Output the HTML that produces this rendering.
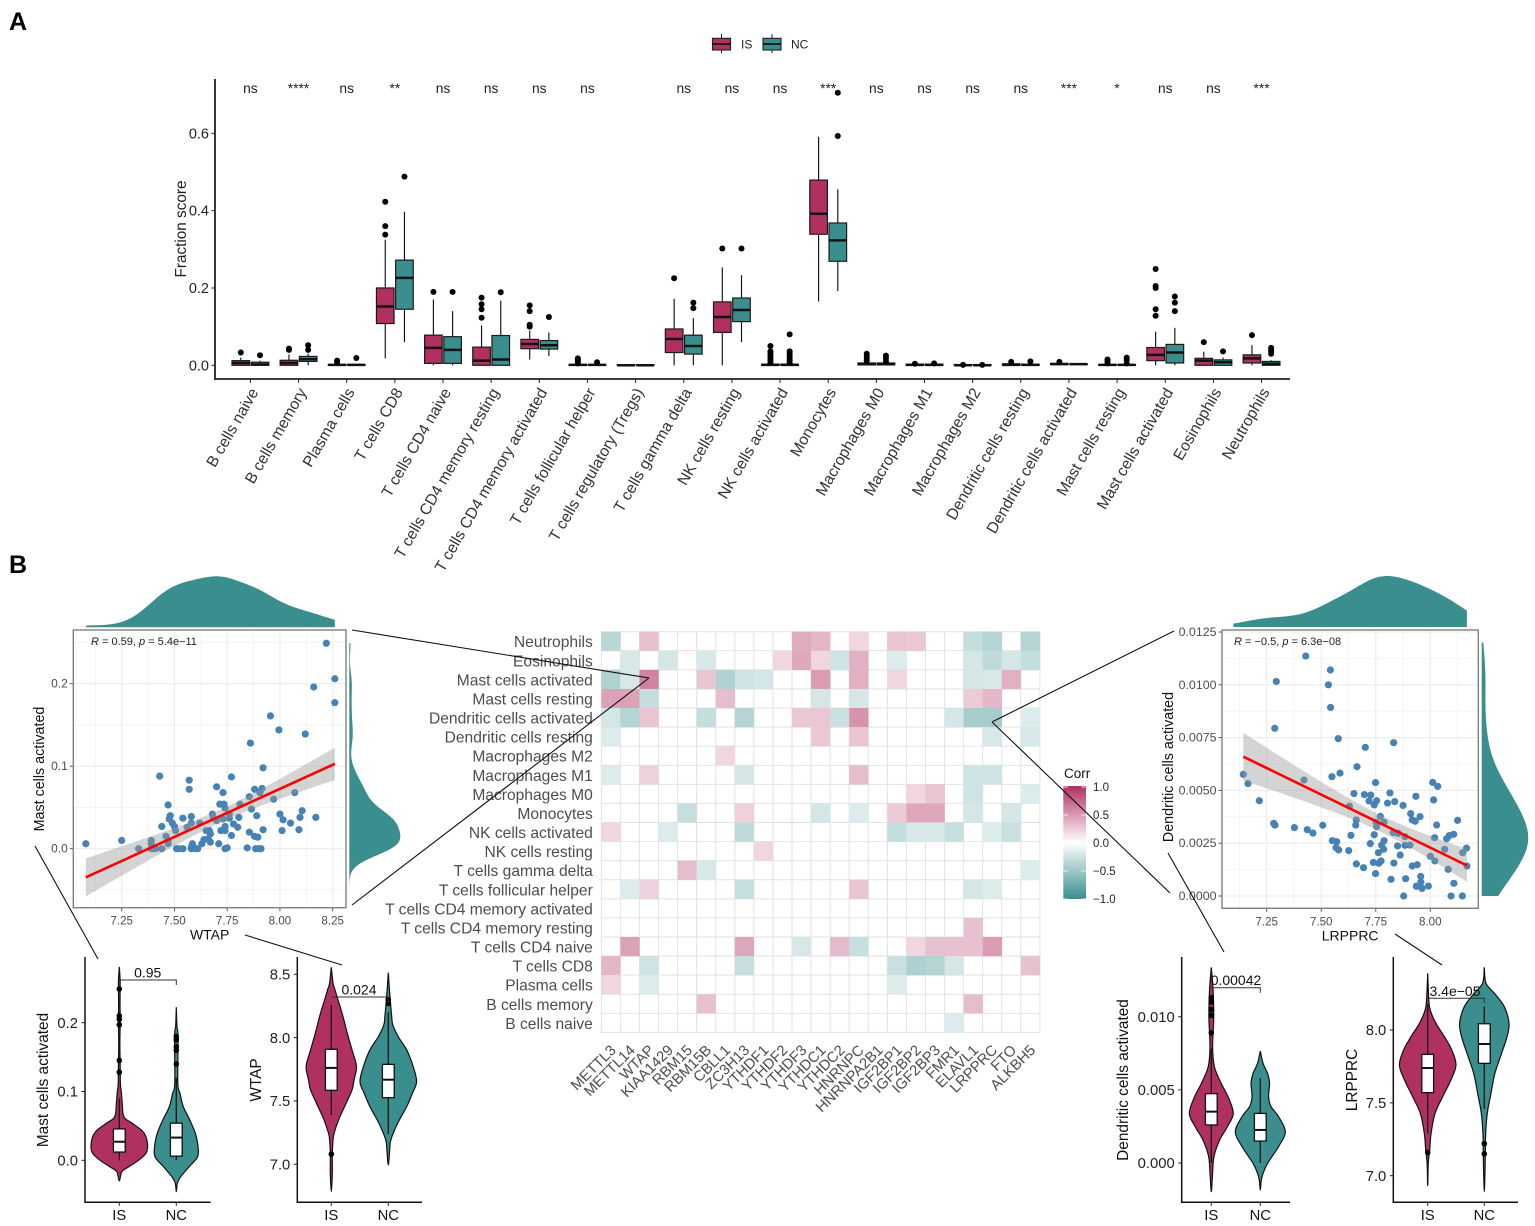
<!DOCTYPE html>
<html lang="en">
<head>
<meta charset="utf-8">
<title>Immune infiltration figure</title>
<style>
html,body{margin:0;padding:0;background:#fff;width:1535px;height:1226px;overflow:hidden}
svg{display:block;font-family:"Liberation Sans",sans-serif}
</style>
</head>
<body>
<svg id="chart" xmlns="http://www.w3.org/2000/svg" width="1535" height="1226" viewBox="0 0 1535 1226">
<defs>
<linearGradient id="corrGrad" x1="0" y1="0" x2="0" y2="1">
<stop offset="0" stop-color="#b03060"/><stop offset="0.5" stop-color="#ffffff"/><stop offset="1" stop-color="#3b8e8e"/>
</linearGradient>
</defs>
<text x="9" y="30" font-size="25" font-weight="bold" fill="#000">A</text>
<text x="9" y="573" font-size="25" font-weight="bold" fill="#000">B</text>
<g id="panelA"></g>
<g id="heat"></g>
<g id="scatters"></g>
<g id="violins"></g>
<g id="connectors" stroke="#111" stroke-width="1.1" fill="none">
<line x1="352" y1="630" x2="649" y2="678"/>
<line x1="352" y1="905" x2="649" y2="678"/>
<line x1="1174" y1="631" x2="992" y2="722"/>
<line x1="1170" y1="893" x2="992" y2="722"/>
<line x1="35" y1="846" x2="98" y2="959"/>
<line x1="245" y1="935" x2="342" y2="965"/>
<line x1="1168" y1="853" x2="1224" y2="952"/>
<line x1="1395" y1="934" x2="1442" y2="965"/>
</g>
</svg>
<script>
/* ---------- Panel A data ---------- */
const cellTypes = ["B cells naive","B cells memory","Plasma cells","T cells CD8","T cells CD4 naive","T cells CD4 memory resting","T cells CD4 memory activated","T cells follicular helper","T cells regulatory (Tregs)","T cells gamma delta","NK cells resting","NK cells activated","Monocytes","Macrophages M0","Macrophages M1","Macrophages M2","Dendritic cells resting","Dendritic cells activated","Mast cells resting","Mast cells activated","Eosinophils","Neutrophils"];
const sigLabels = ["ns","****","ns","**","ns","ns","ns","ns","","ns","ns","ns","***","ns","ns","ns","ns","***","*","ns","ns","***"];
const fractionTicks = [0,0.2,0.4,0.6];
const isLow  = [0,0,0,.018,0,0,.015,0,0,0,0,0,.165,0,0,0,0,.001,0,0,0,0];
const isQ1   = [0,0,0,.108,.005,0,.043,0,0,.033,.085,0,.339,.001,0,0,0,.002,0,.012,0,.006];
const isMed  = [.006,.006,.001,.152,.045,.012,.055,.001,0,.068,.125,.001,.392,.003,.001,0,.001,.003,.001,.027,.012,.018];
const isQ3   = [.012,.013,.002,.2,.078,.047,.067,.002,.001,.094,.164,.003,.479,.006,.003,.002,.004,.005,.002,.046,.018,.027];
const isHigh = [.02,.028,.004,.325,.17,.103,.09,.004,.001,.172,.253,.006,.591,.012,.005,.003,.006,.006,.003,.087,.035,.052];
const ncLow  = [0,0,0,.06,0,0,.024,0,0,0,.06,0,.192,0,0,0,0,.002,0,0,0,0];
const ncQ1   = [0,.01,0,.145,.005,0,.042,0,0,.029,.113,0,.269,.001,0,0,0,.002,0,.006,0,0];
const ncMed  = [.002,.016,.001,.226,.04,.015,.052,.001,0,.05,.143,.001,.323,.003,.001,0,.001,.003,.001,.033,.008,.004];
const ncQ3   = [.008,.023,.002,.272,.074,.077,.064,.002,.001,.078,.174,.003,.368,.006,.003,.002,.003,.003,.002,.054,.014,.01];
const ncHigh = [.012,.03,.003,.397,.14,.167,.085,.003,.001,.122,.233,.005,.455,.011,.004,.002,.005,.003,.003,.097,.02,.013];
const isOutliers = [[.033],[.04,.043],[.008,.012],[.338,.36,.423],[.19],[.123,.145,.158,.175],[.1,.105,.14,.155],[.005,.01,.014,.018],[],[.225],[.302],[.006,.012,.018,.024,.03,.036,.05],[],[.012,.018,.024,.03],[.004],[.001],[.009],[.009],[.005,.01,.015],[.128,.145,.2,.205,.249],[.06],[.078]];
const ncOutliers = [[.026],[.04,.052],[.019],[.488],[.19],[.189],[.125],[.008],[],[.148,.162],[.302],[.006,.012,.018,.024,.03,.036,.08],[.593,.705],[.01,.018,.025],[.005],[.001],[.01],[],[.005,.014,.02],[.14,.162,.178],[.036],[.03,.036,.04,.045]];

/* ---------- Heatmap data ---------- */
const geneNames = ["METTL3","METTL14","WTAP","KIAA1429","RBM15","RBM15B","CBLL1","ZC3H13","YTHDF1","YTHDF2","YTHDF3","YTHDC1","YTHDC2","HNRNPC","HNRNPA2B1","IGF2BP1","IGF2BP2","IGF2BP3","FMR1","ELAVL1","LRPPRC","FTO","ALKBH5"];
const heatRows = ["Neutrophils","Eosinophils","Mast cells activated","Mast cells resting","Dendritic cells activated","Dendritic cells resting","Macrophages M2","Macrophages M1","Macrophages M0","Monocytes","NK cells activated","NK cells resting","T cells gamma delta","T cells follicular helper","T cells CD4 memory activated","T cells CD4 memory resting","T cells CD4 naive","T cells CD8","Plasma cells","B cells memory","B cells naive"];
const corrValues = [
[-.35,0,.3,0,0,0,0,0,0,0,.4,.35,0,.2,0,.28,.27,0,0,-.3,-.38,0,-.38],
[0,-.2,0,-.22,0,-.2,0,0,0,.2,.42,.2,-.25,.38,0,-.18,0,0,0,-.22,-.33,-.22,-.3],
[-.4,-.2,.6,0,0,.28,-.4,-.25,-.22,0,0,.48,0,.38,0,.2,0,0,0,-.22,-.2,.38,0],
[.45,.45,-.3,0,0,0,.32,0,0,0,0,-.22,0,-.22,0,0,0,0,0,.25,.35,0,0],
[-.22,-.38,.28,0,0,-.3,0,-.38,0,0,.27,.27,-.27,.52,0,0,0,0,-.22,-.45,-.45,0,-.18],
[-.18,0,0,0,0,0,0,0,0,0,0,.27,0,.28,0,0,0,0,0,0,-.2,0,-.2],
[0,0,0,0,0,0,.2,0,0,0,0,0,0,0,0,0,0,0,0,0,0,0,0],
[-.18,0,.22,0,0,0,0,-.22,0,0,0,0,0,.32,0,0,0,0,0,-.25,-.25,0,0],
[0,0,0,0,0,0,0,0,0,0,0,0,0,0,0,0,.2,.28,0,-.25,0,0,-.18],
[0,0,0,0,-.28,0,0,.22,0,0,0,-.22,0,-.18,0,.25,.42,.42,0,-.22,0,-.22,0],
[.2,0,0,-.18,0,0,0,-.33,0,0,0,0,0,0,0,-.3,-.2,-.2,-.28,0,-.17,-.27,0],
[0,0,0,0,0,0,0,0,.2,0,0,0,0,0,0,0,0,0,0,0,0,0,0],
[0,0,0,0,.32,-.2,0,0,0,0,0,0,0,0,0,0,0,0,0,0,0,0,-.18],
[0,-.18,.22,0,0,0,0,-.28,0,0,0,0,0,.28,0,0,0,0,0,-.22,-.17,0,0],
[0,0,0,0,0,0,0,0,0,0,0,0,0,0,0,0,0,0,0,0,0,0,0],
[0,0,0,0,0,0,0,0,0,0,0,0,0,0,0,0,0,0,0,.3,0,0,0],
[0,.45,0,0,0,0,0,.42,0,0,-.2,0,.33,-.28,0,0,.2,.3,.3,.3,.48,0,0],
[.35,0,-.25,0,0,0,0,-.28,0,0,0,0,0,0,0,-.27,-.42,-.38,-.22,0,0,0,.3],
[.2,0,-.18,0,0,0,0,0,0,0,0,0,0,0,0,-.17,0,0,0,0,0,0,0],
[0,0,0,0,0,.3,0,0,0,0,0,0,0,0,0,0,0,0,0,.32,0,0,0],
[0,0,0,0,0,0,0,0,0,0,0,0,0,0,0,0,0,0,-.18,0,0,0,0]
];
const corrTicks = [1,0.5,0,-0.5,-1];
const corrTickLabels = ["1.0","0.5","0.0","\u22120.5","\u22121.0"];

/* ---------- Scatter data ---------- */
const wtapValues = [7.08,7.25,7.33,7.39,7.39,7.39,7.40,7.41,7.43,7.44,7.44,7.46,7.47,7.47,7.47,7.48,7.475,7.49,7.50,7.505,7.51,7.52,7.54,7.54,7.56,7.57,7.57,7.58,7.58,7.58,7.585,7.58,7.59,7.60,7.61,7.62,7.63,7.64,7.65,7.66,7.665,7.67,7.67,7.68,7.685,7.70,7.70,7.715,7.71,7.72,7.73,7.73,7.735,7.74,7.74,7.74,7.74,7.75,7.76,7.76,7.77,7.77,7.78,7.80,7.805,7.81,7.845,7.855,7.855,7.86,7.865,7.88,7.88,7.885,7.89,7.895,7.90,7.905,7.91,7.915,7.92,7.92,7.955,7.97,7.995,8.0,8.01,8.015,8.05,8.07,8.09,8.095,8.105,8.12,8.16,8.17,8.22,8.26,8.26];
const mastValues = [.006,.010,0,.010,.006,0,0,0,.088,.027,0,.015,.053,.01,.006,.04,.036,.031,.027,.022,0,0,0,.037,.026,.083,.072,.031,.039,.002,.006,0,.002,0,0,.031,.006,.011,.022,.012,.022,.018,.008,.042,.037,.075,.034,.054,.006,.022,.068,.036,.054,.049,.027,.022,0,.001,.042,.037,.087,.016,.03,.026,.038,.054,.001,.063,.02,.128,.048,.072,.015,0,.04,.014,0,.068,0,.073,.098,.023,.161,.06,.144,.042,.022,.035,.031,.068,.023,.038,.046,.139,.196,.038,.249,.206,.177];
const wtapXTicks = [7.25,7.5,7.75,8,8.25];
const wtapXTickLabels = ["7.25","7.50","7.75","8.00","8.25"];
const mastYTicks = [0,0.1,0.2];
const mastYTickLabels = ["0.0","0.1","0.2"];
const lrpprcValues = [7.429,7.542,7.294,7.533,7.543,7.287,7.578,7.832,7.702,7.664,7.586,7.549,7.143,7.164,7.421,7.216,7.749,8.011,8.034,7.650,7.698,7.727,7.815,7.934,7.719,7.754,7.743,7.804,7.837,7.875,8.015,7.629,7.91,7.953,7.917,7.931,8.125,7.661,7.771,7.788,7.752,7.754,7.658,7.282,7.288,7.377,7.436,7.462,7.507,8.029,7.636,7.743,7.83,7.853,7.884,8.02,8.075,8.087,8.107,7.551,7.571,7.788,7.725,7.777,7.85,7.884,7.907,7.568,7.58,7.626,7.786,7.762,8.166,8.066,8.148,7.862,8.0,7.661,7.694,7.739,7.764,7.774,7.833,7.917,7.94,8.021,8.082,8.168,7.749,7.82,7.887,7.956,7.957,7.936,7.953,7.962,7.991,8.108,7.878,8.095,8.147];
const dendriticValues = [.01136,.0107,.01016,.0100,.00893,.00794,.00745,.00726,.00704,.00612,.00582,.00565,.00576,.00532,.00549,.00451,.00537,.00538,.00519,.00485,.0048,.00478,.00488,.00472,.0045,.00451,.00431,.0044,.00447,.00429,.00455,.00425,.0039,.00376,.0036,.00354,.00358,.0036,.00377,.00349,.00349,.00328,.00336,.00344,.00336,.00324,.00314,.00298,.00335,.00336,.00287,.0029,.003,.00297,.00281,.00276,.00271,.00286,.00292,.00262,.00257,.00262,.00248,.00241,.00237,.0024,.00241,.00229,.00218,.00215,.00221,.00205,.00227,.00221,.00205,.00194,.00188,.00152,.00134,.00159,.00155,.00166,.00156,.00142,.00148,.00166,.00126,.00142,.00106,.00079,.00082,.00093,.00066,.00046,.00047,.00036,.00047,.0006,0,0,0];
const lrpprcXTicks = [7.25,7.5,7.75,8];
const lrpprcXTickLabels = ["7.25","7.50","7.75","8.00"];
const dendriticYTicks = [0,0.0025,0.005,0.0075,0.01,0.0125];
const dendriticYTickLabels = ["0.0000","0.0025","0.0050","0.0075","0.0100","0.0125"];

/* ---------- Violin data (value / relative density profiles) ---------- */
const groupLabels = ["IS","NC"];
const mastIsLevels = [.281,.26,.23,.2,.17,.14,.11,.1,.085,.0635,.054,.044,.0345,.02,.01,0,-.0095,-.0165,-.03];
const mastIsDensity = [0,.03,.025,.03,.02,.03,.04,.07,.1,.16,.45,.78,.94,1,.94,.68,.33,.09,0];
const mastNcLevels = [.2226,.195,.18,.112,.0975,.078,.0587,.039,.02,.005,-.009,-.024,-.033,-.0456];
const mastNcDensity = [0,.03,.08,.07,.17,.32,.62,.88,1,.98,.6,.2,.05,0];
const wtapIsLevels = [8.555,8.429,8.389,8.297,8.166,8.034,7.903,7.797,7.745,7.666,7.587,7.455,7.35,7.245,7.192,7.087,6.929,6.784];
const wtapIsDensity = [0,.07,.13,.27,.47,.64,.83,.99,1,.91,.83,.53,.29,.11,.07,.04,.04,0];
const wtapNcLevels = [8.513,8.35,8.166,8.1,8.008,7.903,7.771,7.653,7.56,7.455,7.324,7.192,7.113,6.995];
const wtapNcDensity = [0,.05,.12,.16,.35,.65,.88,1,.85,.65,.33,.09,.05,0];
const dendIsLevels = [.01337,.01182,.01,.00795,.00658,.00544,.00453,.00339,.00248,.00157,.00043,-.00093,-.00196];
const dendIsDensity = [0,.08,.11,.06,.14,.45,.76,1,.73,.38,.12,.05,0];
const dendNcLevels = [.00765,.00681,.00613,.00544,.00453,.00385,.00317,.00214,.00112,-.00002,-.00071,-.00116,-.00185];
const dendNcDensity = [0,.11,.29,.37,.33,.43,.73,1,.73,.29,.11,.04,0];
const lrpIsLevels = [8.389,8.206,8.137,8.046,7.954,7.863,7.76,7.657,7.542,7.428,7.291,7.176,7.085,6.931];
const lrpIsDensity = [0,.04,.09,.29,.59,.85,1,.82,.53,.26,.12,.07,.02,0];
const lrpNcLevels = [8.43,8.32,8.252,8.16,8.046,7.954,7.84,7.703,7.565,7.451,7.359,7.268,7.13,6.89];
const lrpNcDensity = [0,.07,.41,.81,1,.92,.7,.43,.27,.14,.08,.05,.04,0];
/* five-number summaries: low, q1, median, q3, high */
const mastIsBox = [0,.012,.027,.0456,.09];
const mastNcBox = [0,.006,.033,.054,.12];
const wtapIsBox = [7.39,7.584,7.761,7.908,8.258];
const wtapNcBox = [7.24,7.526,7.668,7.789,8.2];
const dendIsBox = [0,.0026,.00351,.00474,.0078];
const dendNcBox = [0,.0015,.00226,.00339,.0058];
const lrpIsBox = [7.29,7.57,7.739,7.833,8.18];
const lrpNcBox = [7.46,7.771,7.904,8.043,8.16];
const mastIsOut = [.128,.145,.197,.205,.21,.249];
const mastNcOut = [.14,.16,.165,.175,.18];
const wtapIsOut = [7.08];
const wtapNcOut = [8.27,8.3];
const dendIsOut = [.0089,.0101,.0105,.011,.0113];
const dendNcOut = [];
const lrpIsOut = [7.16];
const lrpNcOut = [7.15,7.22];
const mastViolinTicks = [0,0.1,0.2];
const mastViolinLabels = ["0.0","0.1","0.2"];
const wtapViolinTicks = [7,7.5,8,8.5];
const wtapViolinLabels = ["7.0","7.5","8.0","8.5"];
const dendViolinTicks = [0,0.005,0.01];
const dendViolinLabels = ["0.000","0.005","0.010"];
const lrpViolinTicks = [7,7.5,8];
const lrpViolinLabels = ["7.0","7.5","8.0"];

/* ---------- Helpers ---------- */
const NS = "http://www.w3.org/2000/svg";
const IS_COLOR = "#b03060", NC_COLOR = "#3b8e8e";
function add(parent, tag, attrs, text){
  const el = document.createElementNS(NS, tag);
  for (const k in attrs) el.setAttribute(k, attrs[k]);
  if (text !== undefined) el.textContent = text;
  parent.appendChild(el);
  return el;
}
function linear(d0, d1, r0, r1){ return v => r0 + (v - d0) * (r1 - r0) / (d1 - d0); }
function mean(a){ return a.reduce((s,v)=>s+v,0)/a.length; }
function sd(a){ const m = mean(a); return Math.sqrt(a.reduce((s,v)=>s+(v-m)*(v-m),0)/(a.length-1)); }
function quantile(a,q){ const s=[...a].sort((x,y)=>x-y); const i=(s.length-1)*q, lo=Math.floor(i); return s[lo]+(s[Math.min(lo+1,s.length-1)]-s[lo])*(i-lo); }
function kde(vals, from, to, steps, adjust){
  const iqr = quantile(vals,.75)-quantile(vals,.25);
  const bw = adjust*0.9*Math.min(sd(vals), iqr/1.34)*Math.pow(vals.length,-0.2);
  const out = [];
  for (let i=0;i<=steps;i++){
    const x = from+(to-from)*i/steps;
    let d = 0;
    for (const v of vals){ const z=(x-v)/bw; d += Math.exp(-.5*z*z); }
    out.push([x,d]);
  }
  return out;
}
function smoothPath(pts){
  let d = "M"+pts[0][0].toFixed(2)+" "+pts[0][1].toFixed(2);
  for (let i=0;i<pts.length-1;i++){
    const p0=pts[Math.max(i-1,0)],p1=pts[i],p2=pts[i+1],p3=pts[Math.min(i+2,pts.length-1)];
    const c1x=p1[0]+(p2[0]-p0[0])/6,c1y=p1[1]+(p2[1]-p0[1])/6,c2x=p2[0]-(p3[0]-p1[0])/6,c2y=p2[1]-(p3[1]-p1[1])/6;
    d += "C"+c1x.toFixed(2)+" "+c1y.toFixed(2)+" "+c2x.toFixed(2)+" "+c2y.toFixed(2)+" "+p2[0].toFixed(2)+" "+p2[1].toFixed(2);
  }
  return d;
}

/* ---------- Panel A ---------- */
(function(){
  const root = document.getElementById("panelA");
  const y = linear(0,.6,365.3,133.3);
  const x = i => 250.4 + i*48.15;
  const axisY = add(root,"line",{x1:215,y1:79,x2:215,y2:379.9,stroke:"#222","stroke-width":1.8});
  
  
  const axisX = add(root,"line",{x1:214.1,y1:379,x2:1290,y2:379,stroke:"#222","stroke-width":1.8});
  
  
  const title = add(root,"text",{x:0,y:0,transform:"translate(186,229) rotate(-90)","text-anchor":"middle","font-size":15.3,fill:"#222"},"Fraction score");
  
  
  fractionTicks.forEach(t=>{
    const mark = add(root,"line",{x1:211.5,x2:215,y1:y(t),y2:y(t),stroke:"#222","stroke-width":1});
    
    
    const lab = add(root,"text",{x:209,y:y(t)+5,"text-anchor":"end","font-size":14.5,fill:"#222"},t.toFixed(1));
    
    
  });
  function box(cx, lo, q1, med, q3, hi, outs, fill){
    const g = add(root,"g",{});
    
    
    const whisker = add(g,"line",{x1:cx,x2:cx,y1:y(hi),y2:y(lo),stroke:"#111","stroke-width":1.15});
    
    
    const rect = add(g,"rect",{x:cx-8.8,y:y(q3),width:17.6,height:Math.max(y(q1)-y(q3),.3),fill:fill,stroke:"#1a1a1a","stroke-width":1.2});
    
    
    const median = add(g,"line",{x1:cx-8.8,x2:cx+8.8,y1:y(med),y2:y(med),stroke:"#111","stroke-width":2.5});
    
    
    outs.forEach(o=>{
      const pt = add(g,"circle",{cx:cx,cy:y(o),r:3,fill:"#000"});
      
      
    });
  }
  cellTypes.forEach((c,i)=>{
    const cx = x(i);
    const tick = add(root,"line",{x1:cx,x2:cx,y1:379,y2:383,stroke:"#222","stroke-width":1});
    
    
    const lab = add(root,"text",{x:0,y:0,transform:"translate("+(cx+8.5)+",392) rotate(-60)","text-anchor":"end","font-size":15.7,fill:"#333"},c);
    
    
    const sig = add(root,"text",{x:cx,y:93,"text-anchor":"middle","font-size":13.8,fill:"#222"},sigLabels[i]);
    
    
    box(cx-9.6,isLow[i],isQ1[i],isMed[i],isQ3[i],isHigh[i],isOutliers[i],IS_COLOR);
    box(cx+9.6,ncLow[i],ncQ1[i],ncMed[i],ncQ3[i],ncHigh[i],ncOutliers[i],NC_COLOR);
  });
  /* legend */
  const legendKeys = [[721.5,IS_COLOR,"IS",741],[772,NC_COLOR,"NC",791]];
  legendKeys.forEach(k=>{
    const g = add(root,"g",{});
    
    
    const w = add(g,"line",{x1:k[0],x2:k[0],y1:34,y2:53,stroke:"#222","stroke-width":1});
    
    
    const r = add(g,"rect",{x:k[0]-9,y:38.3,width:18,height:11.7,fill:k[1],stroke:"#222","stroke-width":1.1});
    
    
    const m = add(g,"line",{x1:k[0]-9,x2:k[0]+9,y1:44,y2:44,stroke:"#111","stroke-width":1.8});
    
    
    const t = add(g,"text",{x:k[3],y:48.5,"font-size":12,fill:"#222"},k[2]);
    
    
  });
})();

/* ---------- Heatmap ---------- */
(function(){
  const root = document.getElementById("heat");
  const x0=601.3, cw=19.07, y0=631.7, ch=19.08;
  const nc=geneNames.length, nr=heatRows.length;
  function colour(v){
    const t = Math.min(1,Math.abs(v));
    const c = v>0 ? [176,48,96] : [59,142,142];
    return "rgb("+c.map(k=>Math.round(255+(k-255)*t)).join(",")+")";
  }
  for (let i=0;i<=nc;i++){
    const gl = add(root,"line",{x1:x0+i*cw,x2:x0+i*cw,y1:y0,y2:y0+nr*ch,stroke:"#e2e2e2","stroke-width":1});
    
    
  }
  for (let j=0;j<=nr;j++){
    const gl = add(root,"line",{x1:x0,x2:x0+nc*cw,y1:y0+j*ch,y2:y0+j*ch,stroke:"#e2e2e2","stroke-width":1});
    
    
  }
  corrValues.forEach((row,j)=>row.forEach((v,i)=>{
    const cell = add(root,"rect",{x:x0+i*cw,y:y0+j*ch,width:cw+.2,height:ch+.2,fill:v===0?"none":colour(v)});
    
    
  }));
  heatRows.forEach((r,j)=>{
    const lab = add(root,"text",{x:592.8,y:y0+(j+.5)*ch+6,"text-anchor":"end","font-size":15.6,fill:"#4d4d4d"},r);
    
    
  });
  geneNames.forEach((g,i)=>{
    const cx = x0+(i+.5)*cw;
    const lab = add(root,"text",{x:0,y:0,transform:"translate("+(cx+6)+",1051) rotate(-45)","text-anchor":"end","font-size":14.8,fill:"#4d4d4d"},g);
    
    
  });
  /* colour bar */
  const y = linear(1,-1,787,899);
  const bar = add(root,"rect",{x:1063.3,y:786,width:22.7,height:113,fill:"url(#corrGrad)"});
  
  
  const ttl = add(root,"text",{x:1064,y:778,"font-size":13.5,fill:"#111"},"Corr");
  
  
  corrTicks.forEach((t,i)=>{
    const a = add(root,"line",{x1:1063.3,x2:1068,y1:y(t),y2:y(t),stroke:"#fff","stroke-width":.8});
    
    
    const b = add(root,"line",{x1:1081.3,x2:1086,y1:y(t),y2:y(t),stroke:"#fff","stroke-width":.8});
    
    
    const lab = add(root,"text",{x:1093,y:y(t)+4,"font-size":11.5,fill:"#222"},corrTickLabels[i]);
    
    
  });
})();

/* ---------- Scatter panels ---------- */
function scatterPanel(o){
  const root = add(document.getElementById("scatters"),"g",{});
  
  
  const x=o.x, y=o.y, L=o.left, R=o.right, T=o.top, B=o.bottom;
  const bg = add(root,"rect",{x:L,y:T,width:R-L,height:B-T,fill:"#fff"});
  
  
  /* minor grid halfway between majors */
  const xStep=o.xTicks[1]-o.xTicks[0], yStep=o.yTicks[1]-o.yTicks[0];
  for (let v=o.xTicks[0]-xStep/2;x(v)<R;v+=xStep){ if (x(v)>L){
    const m = add(root,"line",{x1:x(v),x2:x(v),y1:T,y2:B,stroke:"#f2f2f2","stroke-width":.8});
    
    
  }}
  for (let v=o.yTicks[0]-yStep/2;y(v)>T;v+=yStep){ if (y(v)<B){
    const m = add(root,"line",{x1:L,x2:R,y1:y(v),y2:y(v),stroke:"#f2f2f2","stroke-width":.8});
    
    
  }}
  o.xTicks.forEach((t,i)=>{
    const g = add(root,"line",{x1:x(t),x2:x(t),y1:T,y2:B,stroke:"#ebebeb","stroke-width":1.1});
    
    
    const k = add(root,"line",{x1:x(t),x2:x(t),y1:B,y2:B+3.5,stroke:"#444","stroke-width":.9});
    
    
    const l = add(root,"text",{x:x(t),y:B+17,"text-anchor":"middle","font-size":11.6,fill:"#4d4d4d"},o.xLabels[i]);
    
    
  });
  o.yTicks.forEach((t,i)=>{
    const g = add(root,"line",{x1:L,x2:R,y1:y(t),y2:y(t),stroke:"#ebebeb","stroke-width":1.1});
    
    
    const k = add(root,"line",{x1:L-3.5,x2:L,y1:y(t),y2:y(t),stroke:"#444","stroke-width":.9});
    
    
    const l = add(root,"text",{x:L-5.5,y:y(t)+4,"text-anchor":"end","font-size":o.yFont,fill:"#4d4d4d"},o.yLabels[i]);
    
    
  });
  o.xs.forEach((v,i)=>{
    const p = add(root,"circle",{cx:x(v),cy:y(o.ys[i]),r:3.6,fill:"#4682b4"});
    
    
  });
  /* least-squares fit with 95% band */
  const mx=mean(o.xs), my=mean(o.ys);
  let sxx=0,sxy=0;
  o.xs.forEach((v,i)=>{ sxx+=(v-mx)*(v-mx); sxy+=(v-mx)*(o.ys[i]-my); });
  const b=sxy/sxx, a=my-b*mx;
  let sse=0;
  o.xs.forEach((v,i)=>{ const e=o.ys[i]-(a+b*v); sse+=e*e; });
  const n=o.xs.length, s=Math.sqrt(sse/(n-2));
  const minX=Math.min(...o.xs), maxX=Math.max(...o.xs);
  const upper=[],lower=[];
  for (let i=0;i<=60;i++){
    const v=minX+(maxX-minX)*i/60;
    const hw=1.984*s*Math.sqrt(1/n+(v-mx)*(v-mx)/sxx);
    upper.push(x(v).toFixed(2)+","+y(a+b*v+hw).toFixed(2));
    lower.unshift(x(v).toFixed(2)+","+y(a+b*v-hw).toFixed(2));
  }
  const band = add(root,"polygon",{points:upper.concat(lower).join(" "),fill:"#999999","fill-opacity":.42});
  
  
  const fit = add(root,"line",{x1:x(minX),y1:y(a+b*minX),x2:x(maxX),y2:y(a+b*maxX),stroke:"#ff0000","stroke-width":2.6});
  
  
  const frame = add(root,"rect",{x:L,y:T,width:R-L,height:B-T,fill:"none",stroke:"#808080","stroke-width":1.4});
  
  
  /* annotation */
  const ann = add(root,"text",{x:o.annX,y:T+15,"font-size":11,fill:"#222"});
  
  
  const r1 = add(ann,"tspan",{"font-style":"italic"},"R");
  
  
  const r2 = add(ann,"tspan",{}," = "+o.rText+", ");
  
  
  const r3 = add(ann,"tspan",{"font-style":"italic"},"p");
  
  
  const r4 = add(ann,"tspan",{}," = "+o.pText);
  
  
  /* axis titles */
  const xt = add(root,"text",{x:(L+R)/2+o.xTitleShift,y:B+32,"text-anchor":"middle","font-size":14,fill:"#111"},o.xTitle);
  
  
  const yt = add(root,"text",{x:0,y:0,transform:"translate("+o.yTitleX+","+o.yTitleY+") rotate(-90)","text-anchor":"middle","font-size":14.3,fill:"#111"},o.yTitle);
  
  
  /* marginal densities */
  const top = kde(o.xs,o.topFrom,o.topTo,120,o.topAdjust);
  const topMax = Math.max(...top.map(p=>p[1]));
  const topPts = top.map(p=>x(p[0]).toFixed(2)+","+(o.topBase-p[1]/topMax*o.topPeak).toFixed(2));
  topPts.push(x(o.topTo).toFixed(2)+","+o.topBase, x(o.topFrom).toFixed(2)+","+o.topBase);
  const td = add(root,"polygon",{points:topPts.join(" "),fill:NC_COLOR});
  
  
  const side = kde(o.ys,o.sideFrom,o.sideTo,160,o.sideAdjust);
  const sideMax = Math.max(...side.map(p=>p[1]));
  const sidePts = side.map(p=>(o.sideBase+p[1]/sideMax*o.sidePeak).toFixed(2)+","+y(p[0]).toFixed(2));
  sidePts.push(o.sideBase+","+y(o.sideTo).toFixed(2), o.sideBase+","+y(o.sideFrom).toFixed(2));
  const sd2 = add(root,"polygon",{points:sidePts.join(" "),fill:NC_COLOR});
  
  
}
scatterPanel({xs:wtapValues,ys:mastValues,x:linear(7.25,8.25,121.7,332.7),y:linear(0,.2,848.7,683.7),left:73.3,right:346,top:630,bottom:907.7,
  xTicks:wtapXTicks,xLabels:wtapXTickLabels,yTicks:mastYTicks,yLabels:mastYTickLabels,yFont:12,annX:91,rText:"0.59",pText:"5.4e\u221211",
  xTitle:"WTAP",xTitleShift:0,yTitle:"Mast cells activated",yTitleX:44,yTitleY:769,
  topFrom:7.08,topTo:8.26,topBase:627.3,topPeak:51,topAdjust:1,sideFrom:-.057,sideTo:.249,sideBase:349.3,sidePeak:51,sideAdjust:1.1});
scatterPanel({xs:lrpprcValues,ys:dendriticValues,x:linear(7.25,8,1266.7,1430.3),y:linear(0,.0125,896,632),left:1222,right:1478.3,top:630,bottom:908.3,
  xTicks:lrpprcXTicks,xLabels:lrpprcXTickLabels,yTicks:dendriticYTicks,yLabels:dendriticYTickLabels,yFont:12.4,annX:1234,rText:"\u22120.5",pText:"6.3e\u221208",
  xTitle:"LRPPRC",xTitleShift:0,yTitle:"Dendritic cells activated",yTitleX:1173,yTitleY:767,
  topFrom:7.097,topTo:8.168,topBase:627,topPeak:51,topAdjust:1.1,sideFrom:0,sideTo:.012,sideBase:1481.7,sidePeak:46.5,sideAdjust:1.6});

/* ---------- Violin panels ---------- */
function violinPanel(o){
  const root = add(document.getElementById("violins"),"g",{});
  
  
  const y=o.y, A=o.axisX, bottom=1202.3;
  const ya = add(root,"line",{x1:A,x2:A,y1:957,y2:bottom+.7,stroke:"#111","stroke-width":1.5});
  
  
  const xa = add(root,"line",{x1:A,x2:o.axisRight,y1:bottom,y2:bottom,stroke:"#111","stroke-width":1.5});
  
  
  o.ticks.forEach((t,i)=>{
    const k = add(root,"line",{x1:A-3.5,x2:A,y1:y(t),y2:y(t),stroke:"#222","stroke-width":1});
    
    
    const l = add(root,"text",{x:A-7,y:y(t)+5.2,"text-anchor":"end","font-size":14.8,fill:"#222"},o.tickLabels[i]);
    
    
  });
  const yt = add(root,"text",{x:0,y:0,transform:"translate("+o.titleX+",1080) rotate(-90)","text-anchor":"middle","font-size":15.4,fill:"#111"},o.title);
  
  
  o.groups.forEach((g,i)=>{
    const cx=g.cx;
    const k = add(root,"line",{x1:cx,x2:cx,y1:bottom,y2:bottom+3.5,stroke:"#222","stroke-width":1});
    
    
    const l = add(root,"text",{x:cx,y:1220,"text-anchor":"middle","font-size":14.8,fill:"#111"},groupLabels[i]);
    
    
    const rightSide = g.levels.map((v,j)=>[cx+g.density[j]*g.half,y(v)]);
    const leftSide = g.levels.map((v,j)=>[cx-g.density[j]*g.half,y(v)]).reverse();
    const path = add(root,"path",{d:smoothPath(rightSide.concat(leftSide.slice(1)))+"Z",fill:g.fill,stroke:"#111","stroke-width":1.2});
    
    
    const b=g.box;
    const wh = add(root,"line",{x1:cx,x2:cx,y1:y(b[4]),y2:y(b[0]),stroke:"#111","stroke-width":1.3});
    
    
    const rect = add(root,"rect",{x:cx-5.9,y:y(b[3]),width:11.8,height:y(b[1])-y(b[3]),fill:"#fff",stroke:"#111","stroke-width":1.3});
    
    
    const med = add(root,"line",{x1:cx-5.9,x2:cx+5.9,y1:y(b[2]),y2:y(b[2]),stroke:"#111","stroke-width":2});
    
    
    g.out.forEach(v=>{
      const p = add(root,"circle",{cx:cx,cy:y(v),r:2.8,fill:"#000"});
      
      
    });
  });
  const a=o.groups[0].cx, c=o.groups[1].cx;
  const br = add(root,"path",{d:"M"+a+" "+o.bracketY+"H"+c+"V"+(o.bracketY+5),fill:"none",stroke:"#333","stroke-width":1});
  
  
  const pv = add(root,"text",{x:o.pX,y:o.bracketY-2.5,"text-anchor":"middle","font-size":14,fill:"#111"},o.pText);
  
  
}
violinPanel({y:linear(0,.2,1160.3,1022.7),axisX:85,axisRight:210.7,ticks:mastViolinTicks,tickLabels:mastViolinLabels,title:"Mast cells activated",titleX:48,bracketY:980,pX:147.7,pText:"0.95",
  groups:[{cx:119.3,half:28.3,fill:IS_COLOR,levels:mastIsLevels,density:mastIsDensity,box:mastIsBox,out:mastIsOut},{cx:176.3,half:21.7,fill:NC_COLOR,levels:mastNcLevels,density:mastNcDensity,box:mastNcBox,out:mastNcOut}]});
violinPanel({y:linear(7,8.5,1164.3,974.3),axisX:297.3,axisRight:422,ticks:wtapViolinTicks,tickLabels:wtapViolinLabels,title:"WTAP",titleX:261,bracketY:997,pX:359,pText:"0.024",
  groups:[{cx:331.3,half:25,fill:IS_COLOR,levels:wtapIsLevels,density:wtapIsDensity,box:wtapIsBox,out:wtapIsOut},{cx:388.3,half:28.3,fill:NC_COLOR,levels:wtapNcLevels,density:wtapNcDensity,box:wtapNcBox,out:wtapNcOut}]});
violinPanel({y:linear(0,.01,1163,1016.7),axisX:1181.7,axisRight:1290,ticks:dendViolinTicks,tickLabels:dendViolinLabels,title:"Dendritic cells activated",titleX:1128,bracketY:987.7,pX:1236,pText:"0.00042",
  groups:[{cx:1211.3,half:22,fill:IS_COLOR,levels:dendIsLevels,density:dendIsDensity,box:dendIsBox,out:dendIsOut},{cx:1260.3,half:25,fill:NC_COLOR,levels:dendNcLevels,density:dendNcDensity,box:dendNcBox,out:dendNcOut}]});
violinPanel({y:linear(7,8,1175.7,1030),axisX:1393.3,axisRight:1518,ticks:lrpViolinTicks,tickLabels:lrpViolinLabels,title:"LRPPRC",titleX:1357,bracketY:998.3,pX:1455,pText:"3.4e\u221205",
  groups:[{cx:1427.7,half:28.3,fill:IS_COLOR,levels:lrpIsLevels,density:lrpIsDensity,box:lrpIsBox,out:lrpIsOut},{cx:1484.3,half:24.7,fill:NC_COLOR,levels:lrpNcLevels,density:lrpNcDensity,box:lrpNcBox,out:lrpNcOut}]});
</script>
</body>
</html>
